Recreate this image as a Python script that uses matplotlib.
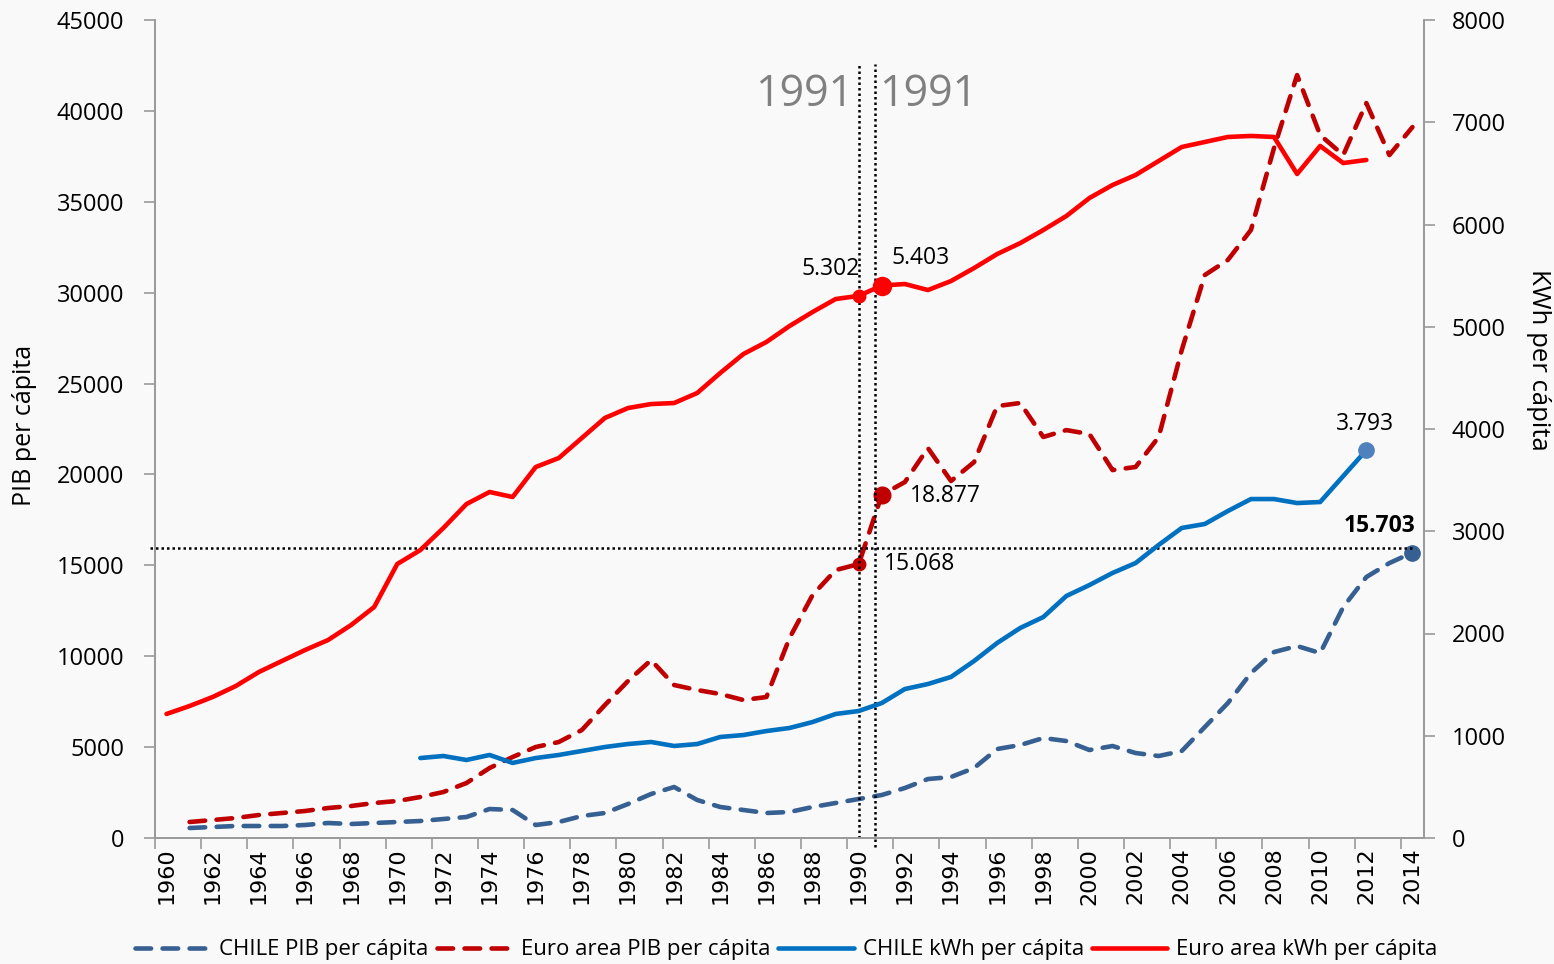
import numpy as np
import matplotlib
matplotlib.use("Agg")
import matplotlib.pyplot as plt

plt.rcParams['font.family'] = ['Open Sans', 'DejaVu Sans']

years = np.arange(1960, 2015)

# left axis: PIB per capita
chile_pib_years = np.arange(1961, 2015)
chile_pib = [550, 605, 660, 660, 660, 715, 825, 770, 825, 880,
             935, 1045, 1155, 1595, 1540, 715, 880, 1210, 1375, 1870,
             2420, 2805, 2090, 1705, 1540, 1375, 1430, 1705, 1925, 2145,
             2365, 2750, 3245, 3355, 3850, 4895, 5115, 5500, 5335, 4840,
             5060, 4675, 4510, 4785, 6105, 7425, 9075, 10230, 10560, 10175,
             12705, 14355, 15125, 15703]

euro_pib_years = np.arange(1961, 2015)
euro_pib = [880, 990, 1100, 1265, 1375, 1485, 1650, 1760, 1925, 2035,
            2255, 2530, 3025, 3850, 4455, 5005, 5280, 5940, 7315, 8635,
            9790, 8415, 8140, 7920, 7590, 7755, 11000, 13365, 14740, 15068,
            18877, 19580, 21450, 19640, 20680, 23760, 23930, 22060, 22440, 22220,
            20240, 20410, 22060, 26840, 30970, 31800, 33450, 37960, 41970, 38670,
            37570, 40430, 37570, 39110]

# right axis: kWh per capita
chile_kwh_years = np.arange(1971, 2013)
chile_kwh = [782, 802, 763, 812, 734, 782, 812, 851, 890, 919,
             939, 900, 919, 988, 1007, 1046, 1076, 1134, 1213, 1242,
             1320, 1457, 1506, 1575, 1731, 1907, 2054, 2161, 2367, 2474,
             2592, 2689, 2866, 3032, 3071, 3198, 3315, 3315, 3276, 3286,
             3540, 3793]

euro_kwh_years = np.arange(1960, 2013)
euro_kwh = [1213, 1291, 1379, 1486, 1623, 1731, 1838, 1936, 2083, 2259,
            2680, 2816, 3032, 3266, 3384, 3335, 3628, 3716, 3912, 4108,
            4205, 4244, 4254, 4352, 4548, 4733, 4851, 5007, 5144, 5271,
            5302, 5403, 5418, 5359, 5447, 5574, 5711, 5818, 5946, 6083,
            6259, 6386, 6484, 6621, 6758, 6807, 6856, 6866, 6856, 6494,
            6768, 6601, 6631]

c_chile_pib = '#376092'
c_euro_pib = '#c00000'
c_chile_kwh = '#0070c0'
c_euro_kwh = '#ff0000'
bg = '#f9f9f9'

fig = plt.figure(figsize=(15.54, 9.64), dpi=100, facecolor=bg)
ax = fig.add_axes([155/1554, 1-838/964, (1424-155)/1554, (838-20)/964])
ax.set_facecolor(bg)
ax2 = ax.twinx()

dash = (3.4, 2.5)
l1, = ax.plot(chile_pib_years, chile_pib, color=c_chile_pib, lw=3.3,
              dashes=dash, dash_capstyle='round', label='CHILE PIB per cápita')
l2, = ax.plot(euro_pib_years, euro_pib, color=c_euro_pib, lw=3.3,
              dashes=dash, dash_capstyle='round', label='Euro area PIB per cápita')
l3, = ax2.plot(chile_kwh_years, chile_kwh, color=c_chile_kwh, lw=3.3,
               solid_capstyle='round', label='CHILE kWh per cápita')
l4, = ax2.plot(euro_kwh_years, euro_kwh, color=c_euro_kwh, lw=3.3,
               solid_capstyle='round', label='Euro area kWh per cápita')

# highlighted points
i90 = list(euro_pib_years).index(1990)
ax.plot([1990], [euro_pib[i90]], 'o', color=c_euro_pib, ms=9)
ax.plot([1991], [euro_pib[i90 + 1]], 'o', color=c_euro_pib, ms=12)
ax.plot([2014], [chile_pib[-1]], 'o', color=c_chile_pib, ms=11)
j90 = list(euro_kwh_years).index(1990)
ax2.plot([1990], [euro_kwh[j90]], 'o', color=c_euro_kwh, ms=9)
ax2.plot([1991], [euro_kwh[j90 + 1]], 'o', color=c_euro_kwh, ms=13)
ax2.plot([2012], [chile_kwh[-1]], 'o', color='#4f81bd', ms=11)

ann = dict(textcoords='offset points', ha='center', va='center', fontsize=16.5)
ax2.annotate('5.302', (1990, euro_kwh[j90]), xytext=(-20, 19), **ann)
ax2.annotate('5.403', (1991, euro_kwh[j90 + 1]), xytext=(28, 20), **ann)
ax.annotate('15.068', (1990, euro_pib[i90]), xytext=(44, 0), **ann)
ax.annotate('18.877', (1991, euro_pib[i90 + 1]), xytext=(46, -1), **ann)
ax2.annotate('3.793', (2012, chile_kwh[-1]), xytext=(-1, 19), **ann)
ax.annotate('15.703', (2014, chile_pib[-1]), xytext=(-24, 19), fontweight='bold', **ann)

# reference lines
dot = (0, (1, 1.2))
ax.plot([1990, 1990], [0, 42600], color='black', lw=1.8, ls=dot, clip_on=False)
ax.plot([1990.69, 1990.69], [-500, 42600], color='black', lw=1.8, ls=dot, clip_on=False)
ax.plot([1959.3, 2014], [15950, 15950], color='black', lw=1.8, ls=dot, clip_on=False)
ax.text(1989.75, 40900, '1991', ha='right', va='center', fontsize=31, color='#808080')
ax.text(1990.87, 40900, '1991', ha='left', va='center', fontsize=31, color='#808080')

# axes
ax.set_xlim(1959.5, 2014.5)
ax.set_ylim(0, 45000)
ax2.set_ylim(0, 8000)
ax.set_yticks(np.arange(0, 45001, 5000))
ax2.set_yticks(np.arange(0, 8001, 1000))
ax.set_xticks(years[::2])
ax.set_xticklabels([str(y) for y in years[::2]], rotation=90,
                   family='DejaVu Sans', fontsize=16)
ax.set_xticks(np.arange(1959.5, 2014, 2), minor=True)
ax.tick_params(axis='x', which='major', length=0, pad=7)
ax.tick_params(axis='x', which='minor', length=8, color='#999999', width=1.2)
ax.tick_params(axis='y', length=8, color='#999999', width=1.2, labelsize=17, pad=14)
ax2.tick_params(axis='y', length=8, color='#999999', width=1.2, labelsize=17, pad=12)

for a in (ax, ax2):
    a.spines['top'].set_visible(False)
    for s in ('left', 'right', 'bottom'):
        a.spines[s].set_color('#999999')
        a.spines[s].set_linewidth(1.2)

fig.text(25/1554, 1-425/964, 'PIB per cápita', rotation=90, ha='center', va='center', fontsize=18)
fig.text(1538/1554, 1-360/964, 'KWh per cápita', rotation=270, ha='center', va='center', fontsize=18.5)

fig.legend(handles=[l1, l2, l3, l4], loc='center', bbox_to_anchor=(0.506, 1-950/964),
           ncol=4, frameon=False, fontsize=16, handlelength=3.4, handletextpad=0.4,
           columnspacing=0.35)

fig.savefig('out.png', dpi=100, facecolor=bg)
